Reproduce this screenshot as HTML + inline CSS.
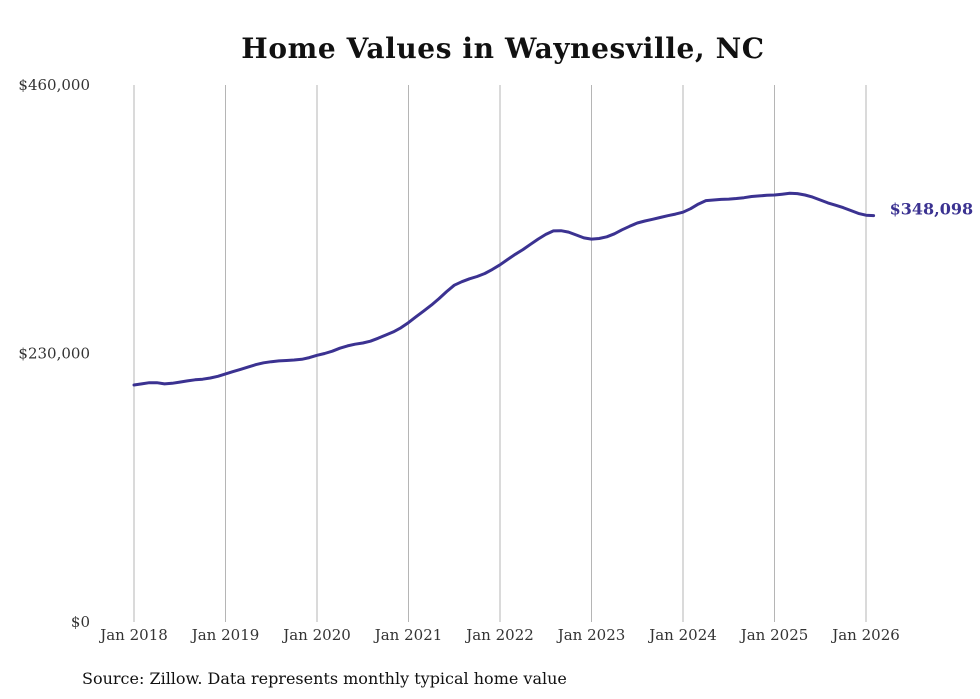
<!DOCTYPE html>
<html><head><meta charset="utf-8"><style>
html,body{margin:0;padding:0;background:#fff;}
svg{display:block;font-family:"DejaVu Serif","Liberation Serif",serif;}
</style></head><body>
<svg id="chart" width="980" height="699" viewBox="0 0 980 699">
<rect width="980" height="699" fill="#fff"/>
<text x="503" y="58" text-anchor="middle" font-size="28" font-weight="bold" letter-spacing="0.6" fill="#111">Home Values in Waynesville, NC</text>
<g id="grid"></g><g id="yaxis"></g><g id="xaxis"></g><g id="series"></g>
<text x="82" y="684" font-size="16" fill="#111">Source: Zillow. Data represents monthly typical home value</text>
</svg>
<script>
const yTicks=[0,230000,460000];
const yTickLabels=["$0","$230,000","$460,000"];
const xTickYears=[2018,2019,2020,2021,2022,2023,2024,2025,2026];
const xTickLabels=["Jan 2018","Jan 2019","Jan 2020","Jan 2021","Jan 2022","Jan 2023","Jan 2024","Jan 2025","Jan 2026"];
const startYear=2018;
const values=[203,204,205,205,204,204.5,205.5,206.5,207.5,208,209,210.5,
212.5,214.5,216.5,218.5,220.5,222,223,223.7,224,224.4,225,226.5,
228.5,230,232,234.5,236.5,238,239,240.5,243,245.8,248.5,252,
256.5,261.5,266.5,271.5,277,283,288.5,291.5,294,296,298.5,302,
306,310.5,315,319,323.5,328,332,335,335.2,334,331.5,329,
328,328.5,330,332.5,336,339,341.8,343.5,345,346.5,348,349.4,
351,354,358,361,361.5,362,362.3,362.8,363.5,364.5,365,365.5,
365.8,366.5,367.2,367,365.8,364,361.5,359,357,355,352.5,350,
348.5,348.098];
const endLabel="$348,098";
const NS="http://www.w3.org/2000/svg";
const y=v=>622-(v/460000)*537;
const x=m=>134+m*(732/96);
function mk(tag,attrs,parent){const e=document.createElementNS(NS,tag);for(const k in attrs)e.setAttribute(k,attrs[k]);parent.appendChild(e);return e;}
const grid=document.getElementById('grid'),ya=document.getElementById('yaxis'),xa=document.getElementById('xaxis'),se=document.getElementById('series');
xTickYears.forEach((yr,i)=>{
  const xx=x((yr-startYear)*12);
  const l=mk('line',{x1:xx,x2:xx,y1:85,y2:622,stroke:'#b5b5b5','stroke-width':1},grid);
  
  
  const t=mk('text',{x:xx,y:640,'text-anchor':'middle','font-size':15,fill:'#333'},xa);
  t.textContent=xTickLabels[i];
  
  
});
yTicks.forEach((v,i)=>{
  const t=mk('text',{x:90,y:y(v)+5,'text-anchor':'end','font-size':15,fill:'#333'},ya);
  t.textContent=yTickLabels[i];
  
  
});
let d='';
values.forEach((v,i)=>{d+=(i?'L':'M')+x(i).toFixed(1)+','+y(v*1000).toFixed(1);});
const p=mk('path',{d:d,fill:'none',stroke:'#3b3291','stroke-width':3,'stroke-linejoin':'round','stroke-linecap':'round'},se);


const last=values.length-1;
const lt=mk('text',{x:x(last)+16,y:y(values[last]*1000)-1,'font-size':16,'font-weight':'bold',fill:'#3b3291'},se);
lt.textContent=endLabel;


</script>
</body></html>
